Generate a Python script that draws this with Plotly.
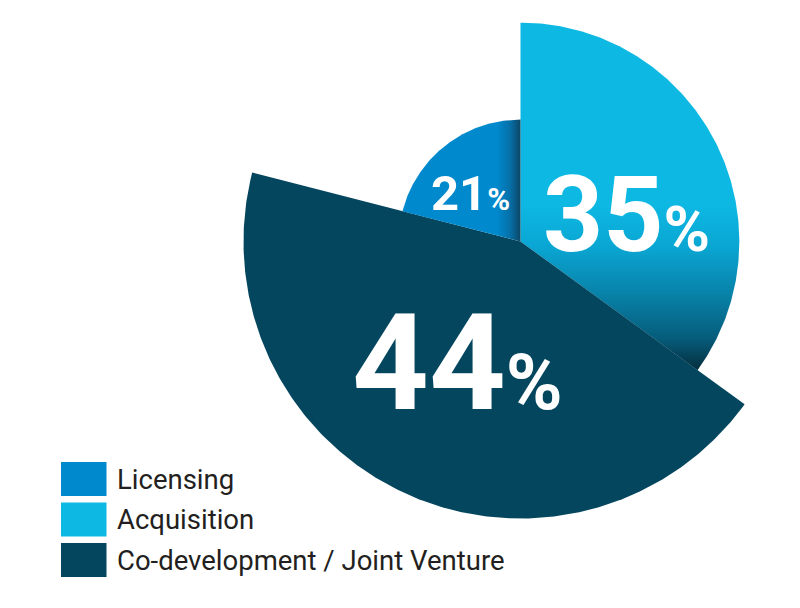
import numpy as np
import plotly.graph_objects as go

# ---- data ----
categories = ["Licensing", "Acquisition", "Co-development / Joint Venture"]
shares = [21, 35, 44]                 # percent -> angular size of each slice
radius = [0.44, 0.79, 1.0]            # relative radius of each slice
colors = ["#0089CD", "#0DB8E2", "#05465F"]
draw_order = ["Acquisition", "Co-development / Joint Venture", "Licensing"]  # clockwise from 12 o'clock

# ---- layout constants (pixels, in screenshot coordinates) ----
W, H = 800, 608
OFF = 8             # page body margin
PX = 277.0          # pixels per radius unit
CX, CY = 520.5 - OFF, 241.5 - OFF

x_range = [-CX / PX, (W - CX) / PX]
y_range = [-(H - CY) / PX, CY / PX]

def to_paper(px, py):
    return (px - OFF) / W, 1 - (py - OFF) / H

def to_data_x(px):
    return (px - OFF - CX) / PX

def to_data_y(py):
    return (CY - (py - OFF)) / PX

gradients = {
    "Acquisition": dict(type="vertical",
                        start=to_data_y(372), stop=to_data_y(205),
                        colorscale=[[0, "#052B39"], [0.2, "#065C7B"], [0.45, "#0880A6"],
                                    [0.75, "#0AA6D3"], [1, "#0DB8E2"]]),
    "Licensing": dict(type="horizontal",
                      start=to_data_x(497), stop=to_data_x(520.5),
                      colorscale=[[0, "#0089CD"], [0.55, "#0670A8"], [1, "#0C4767"]]),
}

fig = go.Figure()
start = 0.0
for name in draw_order:
    i = categories.index(name)
    span = shares[i] / sum(shares) * 360.0
    th = np.radians(np.linspace(start, start + span, 240))
    r = radius[i]
    xs = np.concatenate([[0], r * np.sin(th), [0]])
    ys = np.concatenate([[0], r * np.cos(th), [0]])
    kw = dict(fillcolor=colors[i])
    if name in gradients:
        kw["fillgradient"] = gradients[name]
    fig.add_trace(go.Scatter(x=xs, y=ys, mode="lines", fill="toself",
                             line=dict(width=0, color=colors[i]),
                             name=name, showlegend=False, hoverinfo="name", **kw))
    start += span

# ---- percentage labels ----
label_style = {
    "Licensing": dict(pos=(470.5, 193), big=49, small=31),
    "Acquisition": dict(pos=(626.5, 215), big=105, small=63),
    "Co-development / Joint Venture": dict(pos=(457.5, 363), big=134, small=77),
}
for i, name in enumerate(categories):
    s = label_style[name]
    xp, yp = to_paper(*s["pos"])
    fig.add_annotation(
        x=xp, y=yp, xref="paper", yref="paper", xanchor="center", yanchor="middle",
        text=f"{shares[i]}<span style='font-size:{s['small']}px'>%</span>",
        showarrow=False,
        font=dict(family="Roboto", size=s["big"], color="white", weight="bold"),
    )

# ---- legend (manual) ----
legend_rows = [479, 519.5, 560]
for i, name in enumerate(categories):
    cy = legend_rows[i]
    x0, y0 = to_paper(61, cy - 17)
    x1, y1 = to_paper(106.5, cy + 17)
    fig.add_shape(type="rect", xref="paper", yref="paper", x0=x0, x1=x1, y0=y1, y1=y0,
                  fillcolor=colors[i], line=dict(width=0))
    tx, ty = to_paper(115, cy)
    fig.add_annotation(x=tx, y=ty, xref="paper", yref="paper", xanchor="left", yanchor="middle",
                       text=name, showarrow=False,
                       font=dict(family="Roboto", size=27.5, color="#231F20"))

fig.update_layout(
    width=W, height=H,
    margin=dict(l=0, r=0, t=0, b=0),
    paper_bgcolor="white", plot_bgcolor="white",
    xaxis=dict(range=x_range, visible=False, fixedrange=True),
    yaxis=dict(range=y_range, visible=False, fixedrange=True),
    showlegend=False,
)

fig.write_html("out.html")
